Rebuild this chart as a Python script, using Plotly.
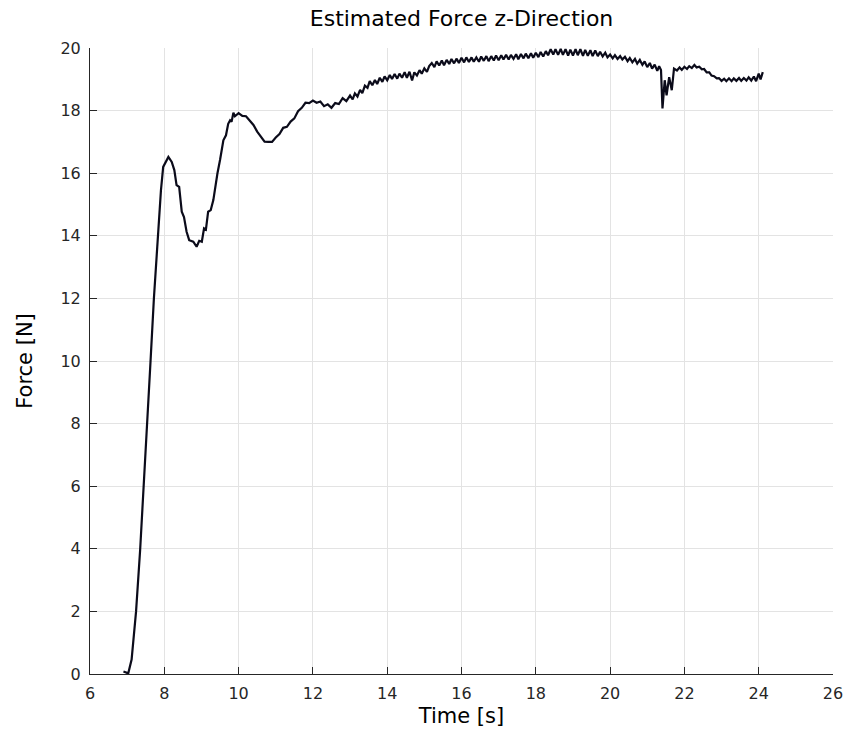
import plotly.graph_objects as go

# Time [s]
time_s = [
    6.90, 7.03, 7.12, 7.24, 7.35, 7.45, 7.55, 7.63, 7.72, 7.80,
    7.84, 7.91, 7.97, 8.02, 8.11, 8.20, 8.27, 8.33, 8.40, 8.47,
    8.53, 8.60, 8.67, 8.78, 8.87, 8.94, 9.01, 9.07, 9.12, 9.18,
    9.25, 9.32, 9.36, 9.43, 9.50, 9.59, 9.66, 9.72, 9.77, 9.81,
    9.86, 9.90,
    10.0, 10.1, 10.2, 10.3, 10.4, 10.5, 10.6, 10.7, 10.8, 10.9,
    11.0, 11.1, 11.2, 11.3, 11.4, 11.5, 11.6, 11.7, 11.8, 11.9,
    12.0, 12.1, 12.2, 12.3, 12.4, 12.5, 12.6, 12.7, 12.8, 12.9,
    13.00, 13.07, 13.13, 13.20, 13.27, 13.33, 13.40, 13.47, 13.53, 13.60, 13.67, 13.73, 13.80, 13.87, 13.93,
    14.00, 14.07, 14.13, 14.20, 14.27, 14.33, 14.40, 14.47, 14.53, 14.60, 14.67, 14.73, 14.80, 14.87, 14.93,
    15.00, 15.07, 15.13, 15.20, 15.27, 15.33, 15.40, 15.47, 15.53, 15.60, 15.67, 15.73, 15.80, 15.87, 15.93,
    16.00, 16.07, 16.13, 16.20, 16.27, 16.33, 16.40, 16.47, 16.53, 16.60, 16.67, 16.73, 16.80, 16.87, 16.93,
    17.00, 17.07, 17.13, 17.20, 17.27, 17.33, 17.40, 17.47, 17.53, 17.60, 17.67, 17.73, 17.80, 17.87, 17.93,
    18.00, 18.07, 18.13, 18.20, 18.27, 18.33, 18.40, 18.47, 18.53, 18.60, 18.67, 18.73, 18.80, 18.87, 18.93,
    19.00, 19.07, 19.13, 19.20, 19.27, 19.33, 19.40, 19.47, 19.53, 19.60, 19.67, 19.73, 19.80, 19.87, 19.93,
    20.00, 20.07, 20.13, 20.20, 20.27, 20.33, 20.40, 20.47, 20.53, 20.60, 20.67, 20.73, 20.80, 20.87, 20.93,
    21.00, 21.07, 21.13, 21.20, 21.27, 21.32, 21.37, 21.41, 21.47, 21.52, 21.59, 21.66, 21.72,
    21.80, 21.87, 21.93, 22.00, 22.07, 22.13, 22.20, 22.27, 22.33, 22.40, 22.47, 22.53, 22.60, 22.67, 22.73,
    22.80, 22.87, 22.93, 23.00, 23.07, 23.13, 23.20, 23.27, 23.33, 23.40, 23.47, 23.53, 23.60, 23.67, 23.73,
    23.80, 23.87, 23.93, 24.00, 24.05, 24.11,
]

# Estimated force [N]
force_n = [
    0.08, 0.02, 0.46, 2.00, 3.97, 6.00, 8.00, 10.00, 12.00, 13.55,
    14.18, 15.46, 16.20, 16.31, 16.52, 16.36, 16.10, 15.62, 15.56, 14.77,
    14.60, 14.13, 13.86, 13.81, 13.65, 13.84, 13.81, 14.24, 14.20, 14.77,
    14.82, 15.14, 15.46, 15.99, 16.42, 17.05, 17.21, 17.58, 17.69, 17.64,
    17.93, 17.82,
    17.92, 17.83, 17.82, 17.68, 17.54, 17.33, 17.17, 17.01, 17.00, 17.00,
    17.14, 17.25, 17.45, 17.48, 17.65, 17.75, 17.98, 18.09, 18.25, 18.24,
    18.32, 18.25, 18.29, 18.14, 18.20, 18.09, 18.24, 18.21, 18.40, 18.30,
    18.48, 18.36, 18.55, 18.45, 18.66, 18.56, 18.80, 18.73, 18.94, 18.81, 18.98, 18.85, 19.05, 18.92, 19.09,
    18.97, 19.14, 19.01, 19.17, 19.02, 19.18, 19.05, 19.23, 19.05, 19.24, 18.96, 19.22, 19.12, 19.29, 19.18,
    19.35, 19.24, 19.42, 19.52, 19.39, 19.57, 19.44, 19.60, 19.45, 19.62, 19.49, 19.65, 19.51, 19.66, 19.52,
    19.69, 19.54, 19.70, 19.55, 19.70, 19.56, 19.70, 19.56, 19.73, 19.59, 19.74, 19.58, 19.74, 19.60, 19.76,
    19.61, 19.77, 19.63, 19.78, 19.63, 19.78, 19.65, 19.80, 19.64, 19.81, 19.67, 19.82, 19.67, 19.83, 19.69,
    19.85, 19.71, 19.87, 19.73, 19.90, 19.77, 19.96, 19.79, 19.96, 19.78, 19.97, 19.78, 19.96, 19.76, 19.95,
    19.76, 19.96, 19.77, 19.96, 19.75, 19.94, 19.75, 19.93, 19.74, 19.92, 19.74, 19.88, 19.73, 19.85, 19.70,
    19.79, 19.67, 19.77, 19.65, 19.74, 19.63, 19.72, 19.58, 19.68, 19.54, 19.65, 19.50, 19.62, 19.46, 19.57,
    19.39, 19.52, 19.34, 19.47, 19.27, 19.42, 19.30, 18.07, 18.97, 18.49, 19.07, 18.65, 19.34,
    19.28, 19.38, 19.30, 19.40, 19.33, 19.42, 19.36, 19.46, 19.38, 19.40, 19.32, 19.33, 19.22, 19.22, 19.12,
    19.10, 19.03, 19.04, 18.95, 19.02, 18.94, 19.03, 18.94, 19.03, 18.95, 19.04, 18.95, 19.04, 18.96, 19.06,
    18.96, 19.09, 18.94, 19.18, 19.00, 19.23,
]

x_ticks = [6, 8, 10, 12, 14, 16, 18, 20, 22, 24, 26]
y_ticks = [0, 2, 4, 6, 8, 10, 12, 14, 16, 18, 20]

AX = "#262626"
GRID = "#e3e3e3"
FONT = "DejaVu Sans"

fig = go.Figure()
fig.add_trace(go.Scatter(
    x=time_s, y=force_n, mode="lines",
    line=dict(color="#0b0b1a", width=2.2),
    showlegend=False,
))

fig.update_layout(
    width=843, height=742,
    margin=dict(l=90, r=10, t=48, b=68),
    paper_bgcolor="white", plot_bgcolor="white",
    font=dict(family=FONT, color=AX),
    title=dict(text="Estimated Force z-Direction", x=0.5475, xanchor="center",
               y=0.975, yanchor="middle",
               font=dict(family=FONT, size=22, color="#000000")),
)
fig.update_xaxes(
    range=[6, 26], tickvals=x_ticks, ticktext=[str(v) for v in x_ticks],
    showgrid=True, gridcolor=GRID, gridwidth=1,
    showline=True, linecolor=AX, linewidth=1, mirror=False,
    ticks="inside", ticklen=7, tickcolor=AX, tickwidth=1,
    tickfont=dict(size=16, family=FONT, color=AX),
    ticklabelstandoff=5, ticklabeloverflow="allow",
    title=dict(text="Time [s]", font=dict(size=21, family=FONT, color="#000000"), standoff=6),
    zeroline=False, automargin=False,
)
fig.update_yaxes(
    range=[0, 20], tickvals=y_ticks, ticktext=[str(v) for v in y_ticks],
    showgrid=True, gridcolor=GRID, gridwidth=1,
    showline=True, linecolor=AX, linewidth=1, mirror=False,
    ticks="inside", ticklen=7, tickcolor=AX, tickwidth=1,
    tickfont=dict(size=16, family=FONT, color=AX),
    ticklabelstandoff=5, ticklabeloverflow="allow",
    title=dict(text="Force [N]", font=dict(size=21, family=FONT, color="#000000"), standoff=22),
    zeroline=False, automargin=False,
)

fig.write_html("out.html")
